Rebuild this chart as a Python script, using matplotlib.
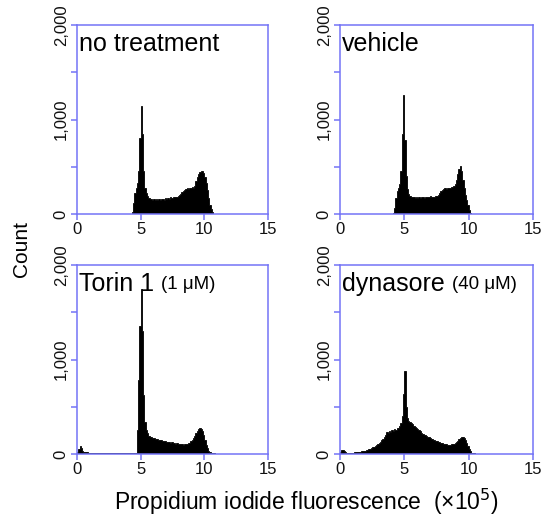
import numpy as np
import matplotlib.pyplot as plt

plt.rcParams['font.family'] = ['Liberation Sans', 'DejaVu Sans']

bin_width = 0.1

# counts per 0.1 bin, starting at the given x (x10^5)
no_treatment_start = 4.2
no_treatment = [0, 20, 120, 220, 280, 330, 450, 800, 1140, 850,
                450, 280, 220, 190, 170, 160, 155, 150, 160, 150,
                155, 150, 160, 150, 155, 160, 150, 165, 160, 170,
                160, 175, 165, 180, 175, 185, 180, 195, 200, 215,
                230, 245, 255, 265, 270, 265, 280, 275, 285, 270,
                300, 350, 390, 420, 440, 460, 455, 430, 390, 330,
                250, 170, 100, 50, 20, 5]

vehicle_start = 4.1
vehicle = [10, 60, 170, 240, 280, 320, 450, 850, 1260, 780,
           400, 260, 210, 190, 185, 175, 180, 170, 185, 170,
           180, 165, 175, 180, 170, 185, 175, 180, 175, 190,
           180, 175, 185, 195, 190, 205, 220, 240, 255, 260,
           270, 265, 275, 270, 280, 285, 290, 300, 320, 360,
           420, 480, 505, 460, 360, 270, 200, 150, 90, 40,
           15, 5]

torin_start = 0.0
torin = [20, 50, 85, 60, 35, 25, 20,
         18, 16, 15, 14, 15, 13, 14, 12, 13, 12,
         12, 11, 12, 11, 10, 11, 12, 10, 11, 10,
         10, 11, 9, 10, 10, 9, 10, 11, 10, 9,
         10, 10, 9, 11, 10, 10, 9, 10, 11, 12,
         250, 780, 1350, 1750, 1300, 620, 340, 250, 220, 195,
         185, 175, 165, 170, 160, 155, 160, 150, 145, 150,
         140, 135, 140, 130, 125, 130, 120, 125, 115, 120,
         110, 115, 110, 105, 110, 105, 100, 110, 105, 110,
         115, 120, 135, 150, 170, 195, 220, 245, 260, 270,
         265, 240, 200, 150, 100, 60, 35, 20, 12, 8,
         6, 5, 5, 4, 5, 4, 3, 4, 3, 3,
         4, 3, 2, 3, 2, 3, 2, 2, 2]

dynasore_start = 0.0
dynasore = [20, 40, 45, 35, 20, 15, 15, 15, 15, 15,
            15, 18, 20, 20, 22, 25, 28, 30, 33, 36,
            40, 45, 50, 55, 60, 70, 75, 85, 95, 105,
            115, 130, 145, 160, 175, 200, 230, 225, 240, 235,
            250, 245, 260, 255, 270, 280, 300, 330, 400, 640,
            880, 500, 380, 350, 340, 330, 320, 300, 290, 270,
            260, 250, 240, 225, 215, 205, 200, 190, 180, 175,
            165, 160, 150, 145, 140, 135, 128, 122, 118, 112,
            110, 105, 102, 100, 98, 100, 102, 105, 110, 118,
            128, 140, 155, 168, 178, 180, 170, 150, 120, 85,
            55, 30, 15, 8, 6, 5, 5, 4, 4, 5,
            3, 3, 4, 3]

titles = ["no treatment", "vehicle", "Torin 1", "dynasore"]
doses = ["", "", "(1 μM)", "(40 μM)"]
series = [(no_treatment_start, no_treatment), (vehicle_start, vehicle),
          (torin_start, torin), (dynasore_start, dynasore)]

x_ticks = [0, 5, 10, 15]
y_ticks = [0, 500, 1000, 1500, 2000]
y_labels = ["0", "", "1,000", "", "2,000"]

W, H = 548, 519
boxes = [(77, 25, 191, 189), (340, 25, 193, 189),
         (77, 265, 191, 189), (340, 265, 193, 189)]

blue = '#7474f6'
fig = plt.figure(figsize=(W / 100, H / 100), dpi=100)
axes = []
for (l, t, w, h), (start, counts), title in zip(boxes, series, titles):
    ax = fig.add_axes([l / W, 1 - (t + h) / H, w / W, h / H])
    counts = np.array(counts)
    edges = start + bin_width * np.arange(len(counts) + 1)
    ax.stairs(counts, edges, fill=True, facecolor='black',
              edgecolor='black', linewidth=0.6)
    ax.set_xlim(0, 15)
    ax.set_ylim(0, 2000)
    ax.set_xticks(x_ticks)
    ax.set_yticks(y_ticks)
    ax.set_yticklabels(y_labels)
    for s in ax.spines.values():
        s.set_color(blue)
        s.set_linewidth(1.1)
    ax.tick_params(colors=blue, labelcolor='#111111', labelsize=12,
                   length=4, width=1.1, pad=2)
    ax.tick_params(axis='y', labelrotation=90)
    for lab in ax.get_yticklabels():
        lab.set_va('center')
    ax.text(0.012, 0.965, title, transform=ax.transAxes, fontsize=18,
            va='top', ha='left')
    axes.append(ax)

fig.canvas.draw()
for ax, dose in zip(axes, doses):
    if not dose:
        continue
    t1 = ax.texts[0]
    bb = t1.get_window_extent().transformed(ax.transAxes.inverted())
    ax.text(bb.x1 + 0.035, bb.y0 + 0.015, dose, transform=ax.transAxes,
            fontsize=13.5, va='bottom', ha='left')

fig.text(22 / W, 1 - 249 / H, "Count", rotation=90, fontsize=15,
         ha='center', va='center')
fig.text(306 / W, 1 - 502 / H, "Propidium iodide fluorescence  (×10$^5$)",
         fontsize=16.5, ha='center', va='center')

fig.savefig('out.png', dpi=100)
